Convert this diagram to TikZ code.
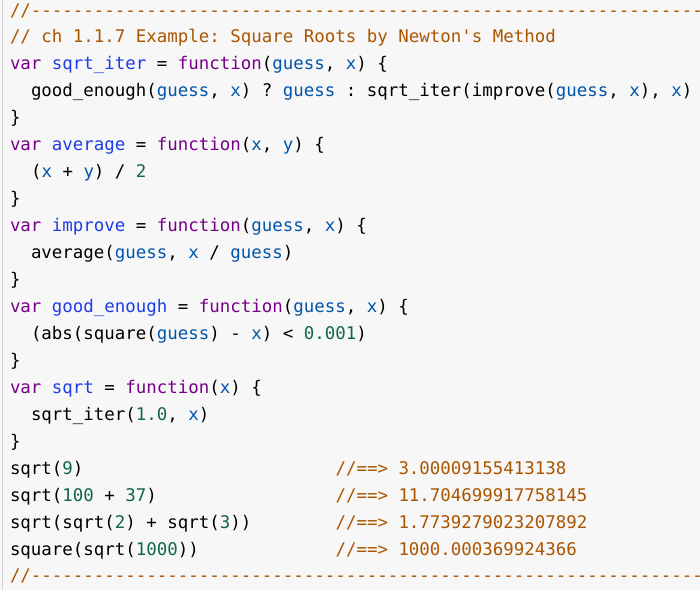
\documentclass[tikz,border=0pt]{standalone}
\usepackage{fontspec}
\setmonofont{DejaVu Sans Mono}
\usetikzlibrary{positioning}
\definecolor{bgc}{HTML}{F7F7F7}
\definecolor{bordc}{HTML}{D3D3D3}
\definecolor{cmc}{HTML}{AA5500}
\definecolor{kwc}{HTML}{770088}
\definecolor{dfc}{HTML}{1E3CE6}
\definecolor{vbc}{HTML}{0055AA}
\definecolor{nmc}{HTML}{116644}
\newcommand\cm[1]{\textcolor{cmc}{#1}}
\newcommand\kw[1]{\textcolor{kwc}{#1}}
\newcommand\df[1]{\textcolor{dfc}{#1}}
\newcommand\vb[1]{\textcolor{vbc}{#1}}
\newcommand\nm[1]{\textcolor{nmc}{#1}}
\tikzset{
  codeline/.style={font=\ttfamily\fontsize{17.44pt}{20pt}\selectfont, inner sep=0pt, outer sep=0pt, anchor=base west, text=black},
}
\begin{document}
\begin{tikzpicture}[x=1pt,y=1pt]
\useasboundingbox (0,0) rectangle (700,-590);
\clip (0,0) rectangle (700,-590);
\fill[bgc] (0,0) rectangle (700,-590);
\draw[bordc, line width=1.6pt] (2.6,0) -- (2.6,-590);
\def\cx{10}\def\adv{10.5}\def\lh{26.95}\def\bt{16}
\node[codeline] (L0) at (\cx,-\bt) {\cm{//----------------------------------------------------------------------}};
\node[codeline] (L1) at (\cx,-\bt-\lh) {\cm{// ch 1.1.7 Example: Square Roots by Newton's Method}};
\node[codeline] (L2) at (\cx,-\bt-2*\lh) {\kw{var} \df{sqrt\_iter} = \kw{function}(\vb{guess}, \vb{x}) \{};
\node[codeline] (L3) at (\cx+2*\adv,-\bt-3*\lh) {good\_enough(\vb{guess}, \vb{x}) ? \vb{guess} : sqrt\_iter(improve(\vb{guess}, \vb{x}), \vb{x})};
\node[codeline] (L4) at (\cx,-\bt-4*\lh) {\}};
\node[codeline] (L5) at (\cx,-\bt-5*\lh) {\kw{var} \df{average} = \kw{function}(\vb{x}, \vb{y}) \{};
\node[codeline] (L6) at (\cx+2*\adv,-\bt-6*\lh) {(\vb{x} + \vb{y}) / \nm{2}};
\node[codeline] (L7) at (\cx,-\bt-7*\lh) {\}};
\node[codeline] (L8) at (\cx,-\bt-8*\lh) {\kw{var} \df{improve} = \kw{function}(\vb{guess}, \vb{x}) \{};
\node[codeline] (L9) at (\cx+2*\adv,-\bt-9*\lh) {average(\vb{guess}, \vb{x} / \vb{guess})};
\node[codeline] (L10) at (\cx,-\bt-10*\lh) {\}};
\node[codeline] (L11) at (\cx,-\bt-11*\lh) {\kw{var} \df{good\_enough} = \kw{function}(\vb{guess}, \vb{x}) \{};
\node[codeline] (L12) at (\cx+2*\adv,-\bt-12*\lh) {(abs(square(\vb{guess}) - \vb{x}) < \nm{0.001})};
\node[codeline] (L13) at (\cx,-\bt-13*\lh) {\}};
\node[codeline] (L14) at (\cx,-\bt-14*\lh) {\kw{var} \df{sqrt} = \kw{function}(\vb{x}) \{};
\node[codeline] (L15) at (\cx+2*\adv,-\bt-15*\lh) {sqrt\_iter(\nm{1.0}, \vb{x})};
\node[codeline] (L16) at (\cx,-\bt-16*\lh) {\}};
\node[codeline] (L17) at (\cx,-\bt-17*\lh) {sqrt(\nm{9})};
\node[codeline] (R17) at (\cx+31*\adv,-\bt-17*\lh) {\cm{//==> 3.00009155413138}};
\node[codeline] (L18) at (\cx,-\bt-18*\lh) {sqrt(\nm{100} + \nm{37})};
\node[codeline] (R18) at (\cx+31*\adv,-\bt-18*\lh) {\cm{//==> 11.704699917758145}};
\node[codeline] (L19) at (\cx,-\bt-19*\lh) {sqrt(sqrt(\nm{2}) + sqrt(\nm{3}))};
\node[codeline] (R19) at (\cx+31*\adv,-\bt-19*\lh) {\cm{//==> 1.7739279023207892}};
\node[codeline] (L20) at (\cx,-\bt-20*\lh) {square(sqrt(\nm{1000}))};
\node[codeline] (R20) at (\cx+31*\adv,-\bt-20*\lh) {\cm{//==> 1000.000369924366}};
\node[codeline] (L21) at (\cx,-\bt-21*\lh) {\cm{//----------------------------------------------------------------------}};
\end{tikzpicture}
\end{document}
